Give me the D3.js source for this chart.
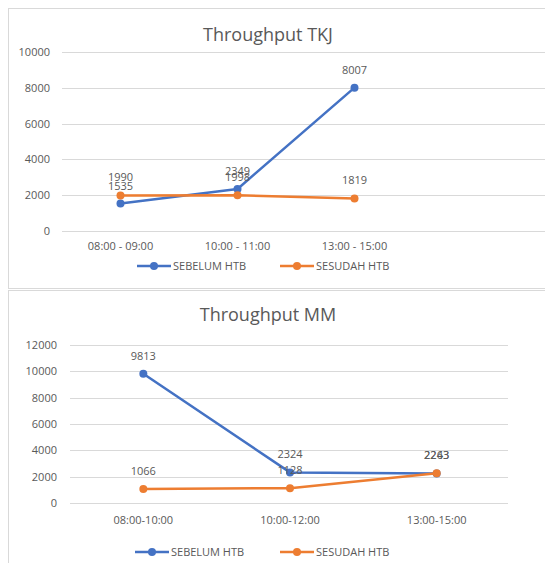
<!DOCTYPE html>
<html><head><meta charset="utf-8">
<script src="https://cdn.jsdelivr.net/npm/d3@7"></script>
<style>body{margin:0;background:#fff}svg{display:block}text{font-family:"Open Sans",sans-serif;fill:#595959}</style>
</head><body>
<svg id="c" width="545" height="563"></svg>
<script>
const seriesNames = ["SEBELUM HTB", "SESUDAH HTB"];
const colors = ["#4472C4", "#ED7D31"];

const tkjCategories = ["08:00 - 09:00", "10:00 - 11:00", "13:00 - 15:00"];
const tkjSebelum = [1535, 2349, 8007];
const tkjSesudah = [1990, 1998, 1819];
const tkjTicks = [0, 2000, 4000, 6000, 8000, 10000];

const mmCategories = ["08:00-10:00", "10:00-12:00", "13:00-15:00"];
const mmSebelum = [9813, 2324, 2243];
const mmSesudah = [1066, 1128, 2263];
const mmTicks = [0, 2000, 4000, 6000, 8000, 10000, 12000];

const svg = d3.select("#c");

function panel(cfg) {
  const g = svg.append("g");
  // panel border
  g.append("rect").attr("x", 8.5).attr("y", cfg.top + 0.5).attr("width", 560).attr("height", cfg.height)
    .attr("fill", "#fff").attr("stroke", "#d9d9d9");
  g.append("text").attr("x", 268).attr("y", cfg.titleY).attr("text-anchor", "middle")
    .style("font-size", "18px").text(cfg.title);
  const x = d3.scaleBand().domain(cfg.categories).range(cfg.xRange);
  const y = d3.scaleLinear().domain([0, cfg.ticks[cfg.ticks.length - 1]]).range(cfg.yRange);
  // grid
  g.append("g").selectAll("line").data(cfg.ticks).join("line")
    .attr("x1", cfg.gridX[0]).attr("x2", cfg.gridX[1])
    .attr("y1", d => Math.round(y(d)) + 0.5).attr("y2", d => Math.round(y(d)) + 0.5)
    .attr("stroke", "#d9d9d9").attr("stroke-width", 1);
  // y axis labels
  const ya = d3.axisLeft(y).tickValues(cfg.ticks).tickSize(0).tickPadding(0).tickFormat(d3.format("d"));
  const yg = g.append("g").attr("transform", `translate(${cfg.yLabelX},0)`).call(ya);
  yg.select(".domain").remove();
  yg.selectAll("text").style("font-size", "11px").style("font-family", "Open Sans, sans-serif").attr("fill", "#595959");
  // x axis labels
  const xa = d3.axisBottom(x).tickSize(0).tickPadding(0);
  const xg = g.append("g").attr("transform", `translate(0,${cfg.xLabelY})`).call(xa);
  xg.select(".domain").remove();
  xg.selectAll("text").style("font-size", "11px").style("font-family", "Open Sans, sans-serif").attr("fill", "#595959");
  const cx = d => x(d) + x.bandwidth() / 2;
  const series = [cfg.s1, cfg.s2];
  const line = d3.line().x((d, i) => cx(cfg.categories[i])).y(d => y(d));
  series.forEach((vals, si) => {
    g.append("path").datum(vals).attr("d", line).attr("fill", "none")
      .attr("stroke", colors[si]).attr("stroke-width", 2.5).attr("stroke-linejoin", "round");
    g.append("g").selectAll("circle").data(vals).join("circle")
      .attr("cx", (d, i) => cx(cfg.categories[i])).attr("cy", d => y(d)).attr("r", 4)
      .attr("fill", colors[si]);
  });
  series.forEach((vals) => {
    g.append("g").selectAll("text").data(vals).join("text")
      .attr("x", (d, i) => cx(cfg.categories[i])).attr("y", d => y(d) - 14)
      .attr("text-anchor", "middle").style("font-size", "11px").text(d => d);
  });
  // legend
  seriesNames.forEach((n, i) => {
    const lx = cfg.legendX[i];
    g.append("line").attr("x1", lx).attr("x2", lx + 34).attr("y1", cfg.legendY).attr("y2", cfg.legendY)
      .attr("stroke", colors[i]).attr("stroke-width", 2.5);
    g.append("circle").attr("cx", lx + 17).attr("cy", cfg.legendY).attr("r", 4).attr("fill", colors[i]);
    g.append("text").attr("x", lx + 36).attr("y", cfg.legendY + 4).style("font-size", "11px").text(n);
  });
}

panel({
  top: 8, height: 280, title: "Throughput TKJ", titleY: 41,
  categories: tkjCategories, s1: tkjSebelum, s2: tkjSesudah, ticks: tkjTicks,
  xRange: [62, 413], yRange: [231, 52], gridX: [62, 545], yLabelX: 50,
  xLabelY: 242, legendX: [137, 280], legendY: 266
});
panel({
  top: 290, height: 290, title: "Throughput MM", titleY: 321,
  categories: mmCategories, s1: mmSebelum, s2: mmSesudah, ticks: mmTicks,
  xRange: [70, 510], yRange: [503, 345], gridX: [70, 508], yLabelX: 57,
  xLabelY: 516, legendX: [135, 280], legendY: 552
});
</script>
</body></html>
